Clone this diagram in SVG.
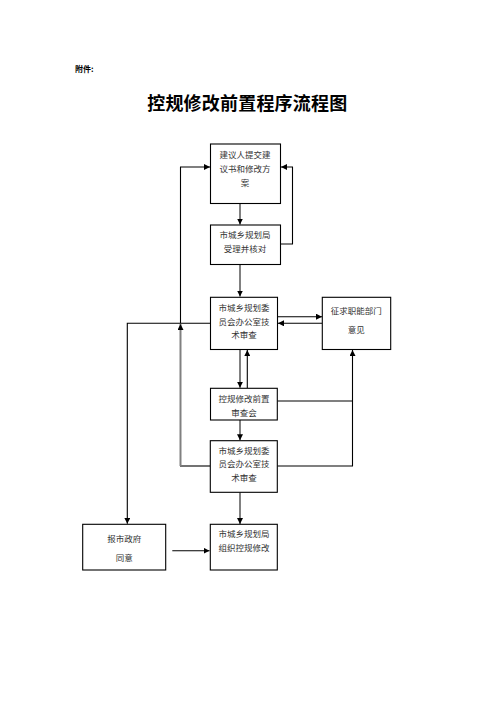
<svg xmlns="http://www.w3.org/2000/svg" width="496" height="702" viewBox="0 0 496 702">
<defs>
<marker id="ah" viewBox="0 0 6 6" refX="6" refY="3" markerWidth="6" markerHeight="6" markerUnits="userSpaceOnUse" orient="auto">
<path d="M0,0 L6,3 L0,6 z" fill="#000"/>
</marker>
</defs>
<style>
.box{fill:#fff;stroke:#000;stroke-width:1.1}
.t{font-family:"Noto Sans CJK SC","Liberation Serif",serif;font-size:8.5px;fill:#333;text-anchor:middle;dominant-baseline:central}
.k{fill:none;stroke:#000;stroke-width:1.1}
.g{fill:none;stroke:#808080;stroke-width:2}
</style>
<rect width="496" height="702" fill="#fff"/>
<text x="75" y="68" font-family="Noto Sans CJK SC, sans-serif" font-size="8" font-weight="bold" dominant-baseline="central">附件:</text>
<text x="247.3" y="101.5" font-family="Noto Sans CJK SC, sans-serif" font-size="18" font-weight="bold" text-anchor="middle" dominant-baseline="central" letter-spacing="0.2">控规修改前置程序流程图</text>
<g id="connectors">
<path class="g" d="M240,203.5 V224.5" marker-end="url(#ah)"/>
<path class="k" d="M280.5,244 H292.5 V167 H281" marker-end="url(#ah)"/>
<path class="g" d="M240,264.5 V296.5" marker-end="url(#ah)"/>
<path class="k" d="M278,316.7 H322" marker-end="url(#ah)"/>
<path class="k" d="M322,323.3 H278" marker-end="url(#ah)"/>
<path class="k" d="M210.5,323.3 H127.3 V523.8" marker-end="url(#ah)"/>
<path class="k" d="M180.5,323.3 V167 H210" marker-end="url(#ah)"/>
<path class="k" d="M210,466 H180"/>
<path class="g" d="M180.5,466 V324" marker-end="url(#ah)"/>
<path class="g" d="M240,349.5 V387.8" marker-end="url(#ah)"/>
<path class="k" d="M247.3,388 V350" marker-end="url(#ah)"/>
<path class="k" d="M277.3,401 H352.5"/>
<path class="k" d="M277.3,466 H352.5 V350" marker-end="url(#ah)"/>
<path class="g" d="M240,420 V440.3" marker-end="url(#ah)"/>
<path class="g" d="M240,492.3 V524" marker-end="url(#ah)"/>
<path class="k" d="M172.3,550.7 H209.5" marker-end="url(#ah)"/>
</g>
<g id="n1"><rect class="box" x="210.5" y="144" width="70" height="59.5"/>
<text class="t" x="245" y="153.5">建议人提交建</text><text class="t" x="245" y="167.5">议书和修改方</text><text class="t" x="245" y="181.5">案</text></g>
<g id="n2"><rect class="box" x="210.5" y="225" width="70" height="39.5"/>
<text class="t" x="245" y="234.3">市城乡规划局</text><text class="t" x="245" y="247.7">受理并核对</text></g>
<g id="n3"><rect class="box" x="210.5" y="297.3" width="67" height="52.2"/>
<text class="t" x="244" y="307.3">市城乡规划委</text><text class="t" x="244" y="320.7">员会办公室技</text><text class="t" x="244" y="333.5">术审查</text></g>
<g id="n4"><rect class="box" x="322.3" y="297.3" width="68.4" height="52.2"/>
<text class="t" x="356.3" y="310">征求职能部门</text><text class="t" x="356.3" y="329">意见</text></g>
<g id="n5"><rect class="box" x="210.5" y="388.3" width="66.8" height="31.7"/>
<text class="t" x="244" y="397.7">控规修改前置</text><text class="t" x="244" y="411.7">审查会</text></g>
<g id="n6"><rect class="box" x="210.3" y="440.7" width="67" height="51.6"/>
<text class="t" x="244" y="449.5">市城乡规划委</text><text class="t" x="244" y="463.3">员会办公室技</text><text class="t" x="244" y="476.7">术审查</text></g>
<g id="n7"><rect class="box" x="82.7" y="524.3" width="83" height="45.7"/>
<text class="t" x="124.2" y="538.3">报市政府</text><text class="t" x="124.2" y="557.3">同意</text></g>
<g id="n8"><rect class="box" x="210.3" y="524.3" width="67" height="45.7"/>
<text class="t" x="244" y="533.3">市城乡规划局</text><text class="t" x="244" y="546.7">组织控规修改</text></g>
</svg>
